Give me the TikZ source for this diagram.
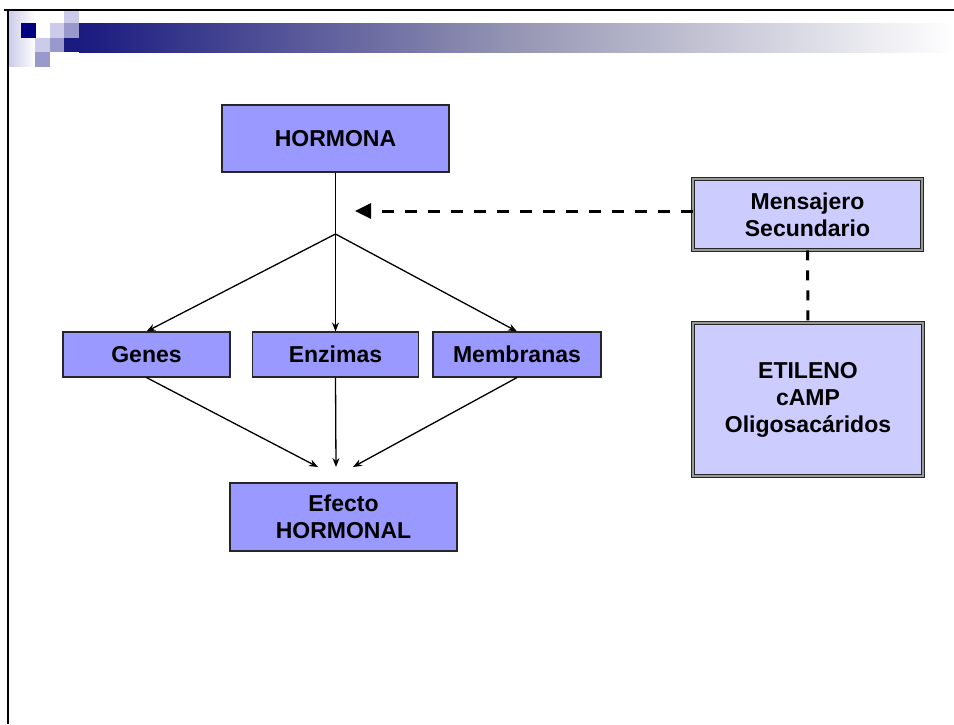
\documentclass[tikz,border=0pt]{standalone}
\usepackage{fontspec}
\setmainfont{Liberation Sans}
\usetikzlibrary{arrows.meta}
\definecolor{boxblue}{RGB}{153,153,255}
\definecolor{boxlight}{RGB}{204,204,255}
\definecolor{navy}{RGB}{0,0,128}
\definecolor{navyb}{RGB}{26,26,128}
\definecolor{lav}{RGB}{204,204,234}
\definecolor{lavm}{RGB}{153,153,204}
\tikzset{
  box/.style={draw=black!85, line width=1.1pt, fill=boxblue, align=center,
    font=\fontsize{23}{27}\selectfont\bfseries, inner sep=0pt},
  dbox/.style={draw=black!85, double=black!40, double distance=1.6pt, line width=0.8pt,
    fill=boxlight, align=center, font=\fontsize{23}{27}\selectfont\bfseries, inner sep=0pt},
  conn/.style={line width=1.3pt, -{Stealth[length=9pt,width=7pt]}},
  dconn/.style={line width=3pt, dash pattern=on 12pt off 11pt},
}
\begin{document}
\begin{tikzpicture}[x=1pt,y=-1pt]
\useasboundingbox (0,0) rectangle (954,724);
\fill[white] (0,0) rectangle (954,724);
% header decoration
\shade[left color=lav, right color=white] (9,11) rectangle (35,66);
\shade[left color=navyb, right color=white, middle color={rgb,255:red,150;green,150;blue,180}] (79,23) rectangle (954,52);
\fill[navyb] (64,38) rectangle (80,52);
\fill[lav] (64,11) rectangle (79,23);
\fill[lavm] (64,23) rectangle (79,38);
\fill[lav] (50,23) rectangle (64,38);
\fill[lavm] (50,38) rectangle (64,52);
\fill[lav] (35,38) rectangle (50,52);
\fill[lavm] (35,52) rectangle (50,67);
\fill[navy] (21,23) rectangle (36,38);
% frame
\draw[line width=2.2pt, black] (4,10) -- (954,10);
\draw[line width=2.2pt, black] (8,9) -- (8,724);
% nodes
\node[box, minimum width=227pt, minimum height=67pt] (hormona) at (335.5,138.5) {HORMONA};
\node[box, minimum width=167pt, minimum height=45pt] (genes) at (146.5,354.5) {Genes};
\node[box, minimum width=166pt, minimum height=45pt] (enzimas) at (335.5,354.5) {Enzimas};
\node[box, minimum width=168pt, minimum height=45pt] (membranas) at (517,354.5) {Membranas};
\node[box, minimum width=227pt, minimum height=68pt] (efecto) at (343.5,517) {Efecto\\HORMONAL};
\node[dbox, minimum width=229pt, minimum height=71pt] (mensajero) at (807.5,214.5) {Mensajero\\Secundario};
\node[dbox, minimum width=230pt, minimum height=153pt] (etileno) at (808,399.5) {ETILENO\\cAMP\\Oligosacáridos};
% connectors
\coordinate (b) at (335.5,234);
\coordinate (tip) at (355,211);
\coordinate (e1) at (318,467);
\coordinate (e2) at (336,467);
\coordinate (e3) at (353,467);
\draw[line width=1.3pt] (hormona.south) -- (b);
\draw[conn] (b) -- (genes.north);
\draw[conn] (b) -- (enzimas.north);
\draw[conn] (b) -- (membranas.north);
\draw[conn] (genes.south) -- (e1);
\draw[conn] (enzimas.south) -- (e2);
\draw[conn] (membranas.south) -- (e3);
\draw[dconn, -{Triangle[length=16pt,width=15pt]}] (tip -| mensajero.west) -- (tip);
\draw[dconn, dash pattern=on 10pt off 10pt] (mensajero.south) -- (etileno.north);
\end{tikzpicture}
\end{document}
